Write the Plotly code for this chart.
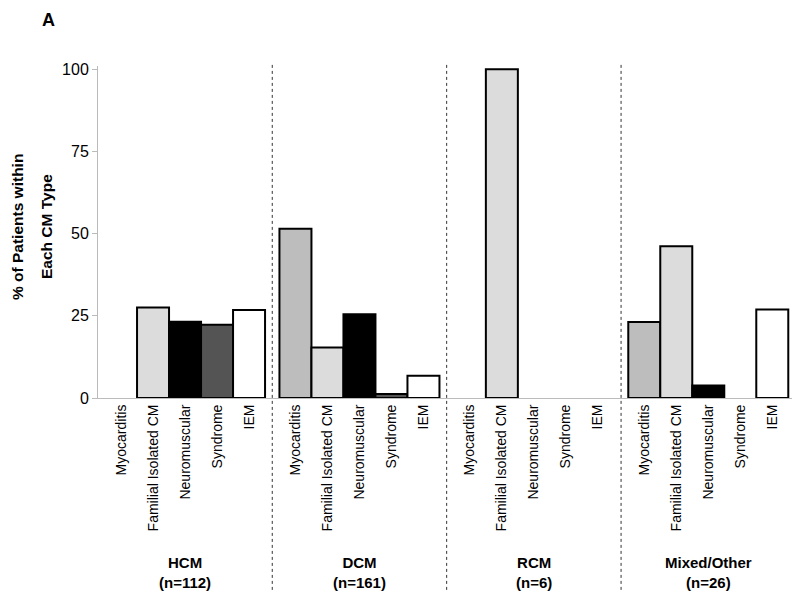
import plotly.graph_objects as go

groups = ["HCM", "DCM", "RCM", "Mixed/Other"]
group_n = ["(n=112)", "(n=161)", "(n=6)", "(n=26)"]
categories = ["Myocarditis", "Familial Isolated CM", "Neuromuscular", "Syndrome", "IEM"]
# percent of patients within each CM type, per category (order of groups)
myocarditis = [0, 51.5, 0, 23.1]
familial = [27.5, 15.4, 100, 46.2]
neuromuscular = [23.2, 25.5, 0, 3.8]
syndrome = [22.3, 1.2, 0, 0]
iem = [26.8, 6.8, 0, 26.9]

series = [myocarditis, familial, neuromuscular, syndrome, iem]
colors = ["#bdbdbd", "#dcdcdc", "#000000", "#545454", "#ffffff"]

GAP = 5.45
fig = go.Figure()
for ci, (cat, vals, col) in enumerate(zip(categories, series, colors)):
    xs = [gi * GAP + ci for gi in range(len(groups))]
    ys = [v if v > 0 else None for v in vals]
    fig.add_trace(go.Bar(x=xs, y=ys, name=cat, width=1.0,
                         marker=dict(color=col, line=dict(color="#000000", width=2)),
                         showlegend=False))

tickvals = [gi * GAP + ci for gi in range(len(groups)) for ci in range(len(categories))]
ticktext = [c for _ in groups for c in categories]

narrow = "Liberation Sans Narrow, Arial Narrow, Liberation Sans, Arial, sans-serif"
regular = "Liberation Sans, Arial, sans-serif"

PW = 697  # plot width in px
def px_to_paper_x(px):
    return (px - 98) / PW

shapes = []
for gi in range(1, len(groups)):
    xb = gi * GAP - (GAP - 4) / 2
    shapes.append(dict(type="line", xref="x", yref="paper", x0=xb, x1=xb,
                       y0=-0.578, y1=1.012, line=dict(color="#333333", width=1, dash="dot")))

annotations = []
for gi, (g, n) in enumerate(zip(groups, group_n)):
    annotations.append(dict(x=gi * GAP + 2, y=-0.527, xref="x", yref="paper",
                            text=f"<b>{g}</b><br><b>{n}</b>", showarrow=False,
                            font=dict(family=narrow, size=15, color="#000"),
                            xanchor="center", yanchor="middle"))
for txt, px in [("% of Patients within", 17), ("Each CM Type", 46)]:
    annotations.append(dict(x=px_to_paper_x(px), y=0.515, xref="paper", yref="paper",
                            text=f"<b>{txt}</b>", textangle=-90, showarrow=False,
                            font=dict(family=narrow, size=15.5, color="#000"),
                            xanchor="center", yanchor="middle"))
annotations.append(dict(x=px_to_paper_x(48), y=(398 - 20) / 332, xref="paper", yref="paper",
                        text="<b>A</b>", showarrow=False,
                        font=dict(family=regular, size=18, color="#000"),
                        xanchor="center", yanchor="middle"))

fig.update_layout(
    width=792, height=590,
    margin=dict(l=90, r=5, t=58, b=200),
    plot_bgcolor="white", paper_bgcolor="white",
    barmode="overlay",
    shapes=shapes, annotations=annotations,
    xaxis=dict(range=[-0.72, 21.06], tickvals=tickvals, ticktext=ticktext,
               tickangle=-90, showgrid=False, zeroline=False,
               showline=True, linecolor="#bbbbbb", linewidth=1, ticks="",
               tickfont=dict(family=regular, size=14, color="#000")),
    yaxis=dict(range=[0, 101], tickvals=[0, 25, 50, 75, 100], showgrid=False,
               zeroline=False, showline=True, linecolor="#bbbbbb", linewidth=1,
               ticks="outside", ticklen=5, tickcolor="#bbbbbb",
               tickfont=dict(family=narrow, size=16, color="#000")),
)

fig.write_html("out.html")
